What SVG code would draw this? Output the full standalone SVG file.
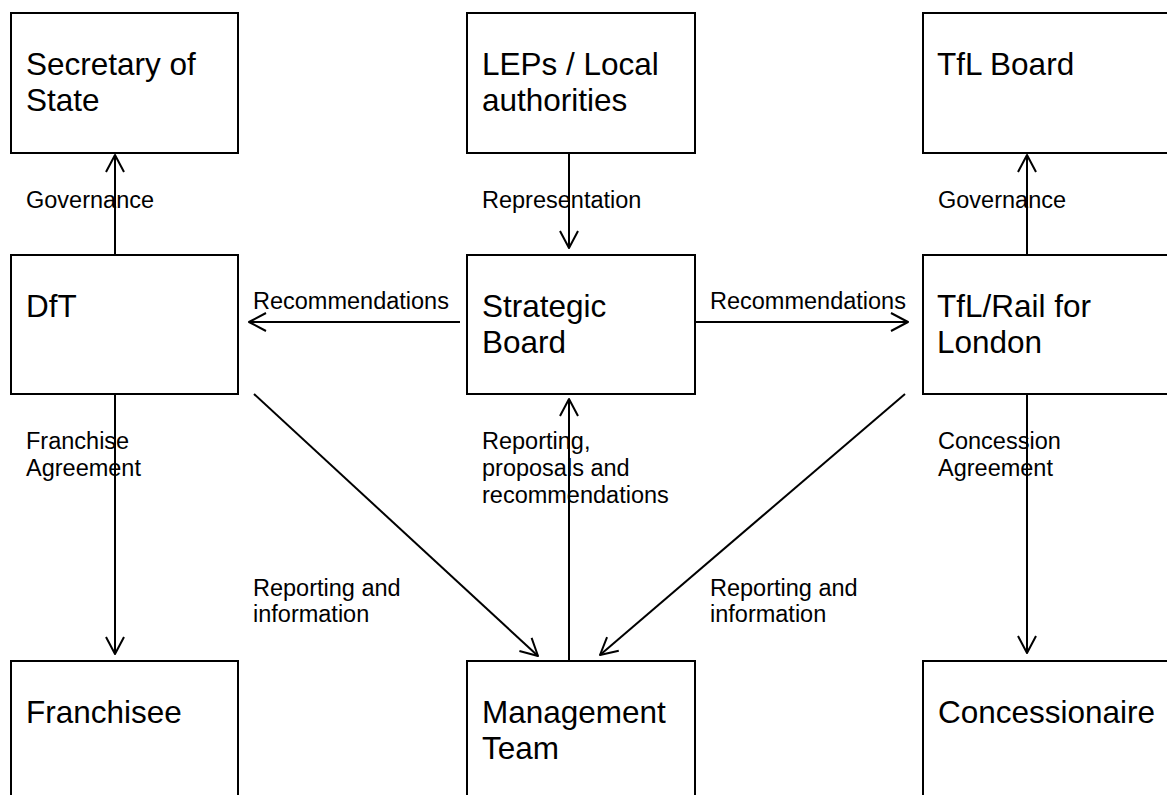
<svg xmlns="http://www.w3.org/2000/svg" width="1167" height="795" viewBox="0 0 1167 795">
  <style>
    .box { fill: #fff; stroke: #000; stroke-width: 2; }
    .title { font-family: "Liberation Sans", Arial, sans-serif; font-size: 31.5px; fill: #000; }
    .label { font-family: "Liberation Sans", Arial, sans-serif; font-size: 23.5px; fill: #000; }
    .conn { fill: none; stroke: #000; stroke-width: 2; marker-end: url(#arrow); }
  </style>
  <defs>
    <marker id="arrow" markerUnits="userSpaceOnUse" orient="auto" viewBox="-20 -11 22 22" markerWidth="22" markerHeight="22" refX="0" refY="0" overflow="visible">
      <path d="M-17,-9 L0,0 L-17,9" fill="none" stroke="#000" stroke-width="2" stroke-linejoin="round"/>
    </marker>
  </defs>
  <rect width="1167" height="795" fill="#fff"/>

  <!-- top row -->
  <g id="secretary-of-state">
    <rect class="box" x="11" y="13" width="227" height="140"/>
    <text class="title" x="26" y="75">Secretary of</text>
    <text class="title" x="26" y="111">State</text>
  </g>
  <g id="leps-local-authorities">
    <rect class="box" x="467" y="13" width="228" height="140"/>
    <text class="title" x="482" y="75">LEPs / Local</text>
    <text class="title" x="482" y="111">authorities</text>
  </g>
  <g id="tfl-board">
    <rect class="box" x="923" y="13" width="270" height="140"/>
    <text class="title" x="937" y="75">TfL Board</text>
  </g>

  <!-- middle row -->
  <g id="dft">
    <rect class="box" x="11" y="255" width="227" height="139"/>
    <text class="title" x="26" y="317">DfT</text>
  </g>
  <g id="strategic-board">
    <rect class="box" x="467" y="255" width="228" height="139"/>
    <text class="title" x="482" y="317">Strategic</text>
    <text class="title" x="482" y="353">Board</text>
  </g>
  <g id="tfl-rail-for-london">
    <rect class="box" x="923" y="255" width="270" height="139"/>
    <text class="title" x="937" y="317">TfL/Rail for</text>
    <text class="title" x="937" y="353">London</text>
  </g>

  <!-- bottom row -->
  <g id="franchisee">
    <rect class="box" x="11" y="661" width="227" height="200"/>
    <text class="title" x="26" y="723">Franchisee</text>
  </g>
  <g id="management-team">
    <rect class="box" x="467" y="661" width="228" height="200"/>
    <text class="title" x="482" y="723">Management</text>
    <text class="title" x="482" y="759">Team</text>
  </g>
  <g id="concessionaire">
    <rect class="box" x="923" y="661" width="270" height="200"/>
    <text class="title" x="938" y="723">Concessionaire</text>
  </g>

  <!-- edge labels -->
  <g id="labels">
    <text class="label" x="26" y="208">Governance</text>
    <text class="label" x="482" y="208">Representation</text>
    <text class="label" x="938" y="208">Governance</text>
    <text class="label" x="253" y="309">Recommendations</text>
    <text class="label" x="710" y="309">Recommendations</text>
    <text class="label" x="26" y="449">Franchise</text>
    <text class="label" x="26" y="476">Agreement</text>
    <text class="label" x="938" y="449">Concession</text>
    <text class="label" x="938" y="476">Agreement</text>
    <text class="label" x="482" y="449">Reporting,</text>
    <text class="label" x="482" y="476">proposals and</text>
    <text class="label" x="482" y="503">recommendations</text>
    <text class="label" x="253" y="596">Reporting and</text>
    <text class="label" x="253" y="622">information</text>
    <text class="label" x="710" y="596">Reporting and</text>
    <text class="label" x="710" y="622">information</text>
  </g>

  <!-- connectors -->
  <g id="connectors">
    <line class="conn" x1="115" y1="255" x2="115" y2="155"/>
    <line class="conn" x1="569" y1="153" x2="569" y2="248"/>
    <line class="conn" x1="1027" y1="255" x2="1027" y2="155"/>
    <line class="conn" x1="460" y1="322" x2="249" y2="322"/>
    <line class="conn" x1="695" y1="322" x2="908" y2="322"/>
    <line class="conn" x1="115" y1="394" x2="115" y2="654"/>
    <line class="conn" x1="254" y1="394" x2="538" y2="656"/>
    <line class="conn" x1="569" y1="661" x2="569" y2="399"/>
    <line class="conn" x1="905" y1="394" x2="600" y2="655"/>
    <line class="conn" x1="1027" y1="394" x2="1027" y2="653"/>
  </g>
</svg>
